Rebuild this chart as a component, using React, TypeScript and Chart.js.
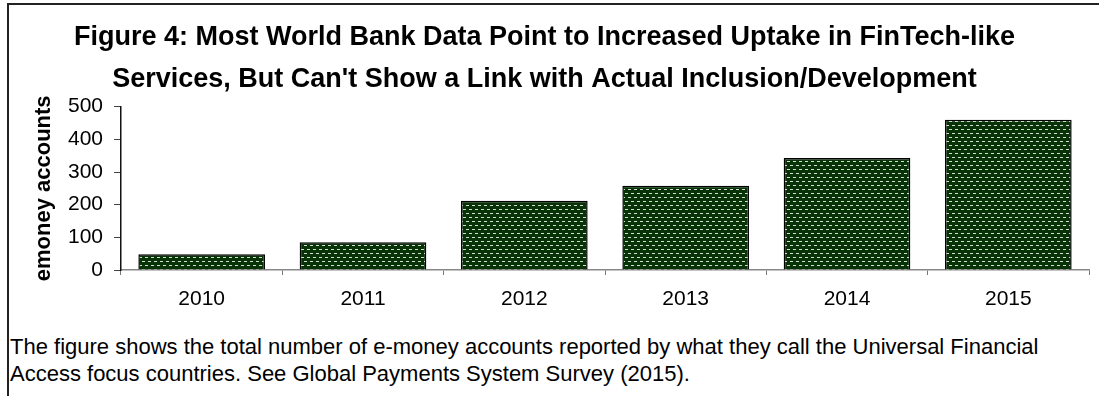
import React, { useEffect, useRef } from "react";
import { Chart, registerables } from "chart.js";

Chart.register(...registerables);

const categories = ["2010", "2011", "2012", "2013", "2014", "2015"];
const accounts = [48, 85, 212, 258, 343, 460];
const yMin = 0;
const yMax = 500;
const yStep = 100;
const titleLines = [
  "Figure 4: Most World Bank Data Point to Increased Uptake in FinTech-like",
  "Services, But Can't Show a Link with Actual Inclusion/Development",
];
const yAxisTitle = "emoney accounts";
const noteLines = [
  "The figure shows the total number of e-money accounts reported by what they call the Universal Financial",
  "Access focus countries. See Global Payments System Survey (2015).",
];

const FONT = "'Liberation Sans', Arial, Helvetica, sans-serif";

function makePattern(): CanvasPattern | string {
  const c = document.createElement("canvas");
  c.width = 6;
  c.height = 8;
  const ctx = c.getContext("2d");
  if (!ctx) return "#0b330b";
  ctx.fillStyle = "#073307";
  ctx.fillRect(0, 0, 6, 8);
  ctx.fillStyle = "#d4ded4";
  ctx.fillRect(1, 1, 3, 1);
  ctx.fillRect(4, 5, 2, 1);
  ctx.fillRect(0, 5, 1, 1);
  const p = ctx.createPattern(c, "repeat");
  return p || "#0b330b";
}

export default function App() {
  const canvasRef = useRef<HTMLCanvasElement | null>(null);

  useEffect(() => {
    document.body.style.margin = "0";
    const canvas = canvasRef.current;
    if (!canvas) return;
    Chart.defaults.font.family = FONT;
    Chart.defaults.color = "#000";
    const chart = new Chart(canvas, {
      type: "bar",
      data: {
        labels: categories,
        datasets: [
          {
            label: yAxisTitle,
            data: accounts,
            backgroundColor: makePattern() as any,
            borderColor: "#000",
            borderWidth: 1.5,
            categoryPercentage: 1,
            barPercentage: 0.785,
          },
        ],
      },
      options: {
        animation: false,
        responsive: false,
        maintainAspectRatio: false,
        layout: { padding: { left: 0, right: 10, top: 0, bottom: 0 } },
        plugins: {
          legend: { display: false },
          tooltip: { enabled: false },
          title: {
            display: true,
            text: titleLines,
            color: "#000",
            font: { size: 27, weight: "bold", family: FONT, lineHeight: 1.55 },
            padding: { top: 17, bottom: 6 },
          },
        },
        scales: {
          x: {
            grid: {
              display: true,
              drawOnChartArea: false,
              drawTicks: true,
              tickLength: 5,
              color: "#777",
              offset: true,
            },
            border: { display: true, color: "#888", width: 1.5 },
            ticks: { font: { size: 21, family: FONT }, color: "#000", padding: 12, maxRotation: 0 },
            afterFit: (s: any) => {
              s.height = 50;
            },
          },
          y: {
            min: yMin,
            max: yMax,
            grid: {
              display: true,
              drawOnChartArea: false,
              drawTicks: true,
              tickLength: 7,
              color: "#444",
            },
            border: { display: true, color: "#111", width: 1.5 },
            ticks: { stepSize: yStep, font: { size: 21, family: FONT }, color: "#000", padding: 11 },
            title: {
              display: true,
              text: yAxisTitle,
              color: "#000",
              font: { size: 22, weight: "bold", family: FONT },
              padding: { top: 31, bottom: 0 },
            },
            afterFit: (s: any) => {
              s.width = 121;
            },
          },
        },
      },
    });
    return () => chart.destroy();
  }, []);

  return (
    <div style={{ position: "relative", width: 1099, height: 396, overflow: "hidden", background: "#fff" }}>
      <div
        style={{
          position: "absolute",
          left: 7,
          top: 3,
          width: 1200,
          height: 500,
          borderTop: "2px solid #222",
          borderLeft: "2px solid #222",
        }}
      />
      <canvas
        ref={canvasRef}
        width={1099}
        height={320}
        style={{ position: "absolute", left: 0, top: 0, width: 1099, height: 320 }}
      />
      <div
        style={{
          position: "absolute",
          left: 10,
          top: 333,
          fontFamily: FONT,
          fontSize: 22,
          lineHeight: "27px",
          color: "#000",
          whiteSpace: "nowrap",
        }}
      >
        {noteLines.map((l, i) => (
          <div key={i}>{l}</div>
        ))}
      </div>
    </div>
  );
}
